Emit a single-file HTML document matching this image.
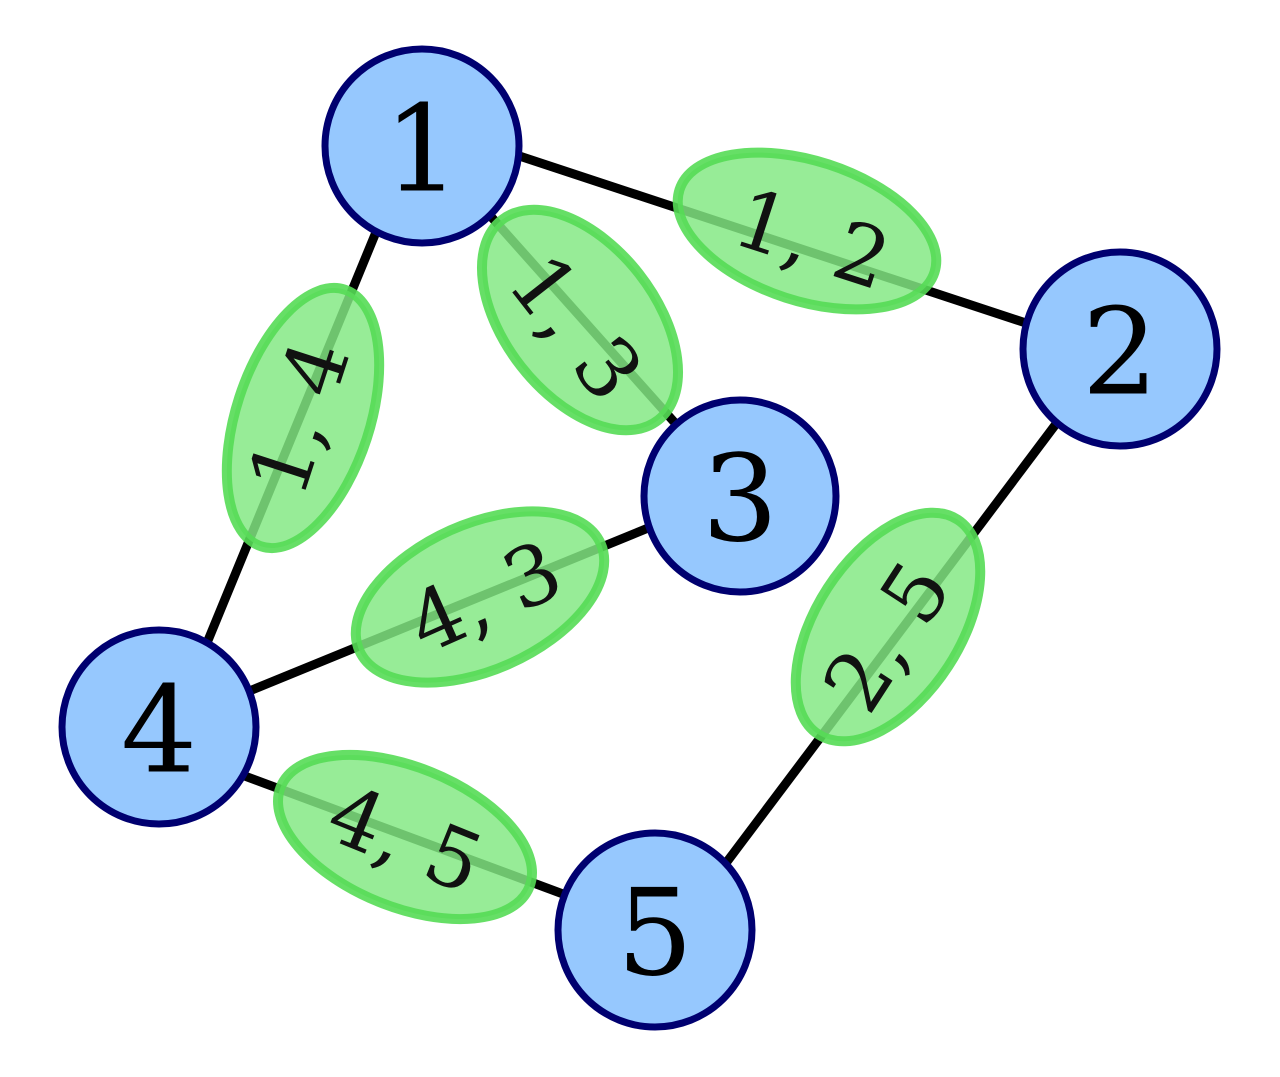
<!DOCTYPE html>
<html><head><meta charset="utf-8"><style>html,body{margin:0;padding:0;background:#fff}svg{display:block}</style></head>
<body>
<svg width="1280" height="1077" viewBox="0 0 1280 1077" xmlns="http://www.w3.org/2000/svg">
<g stroke="#000" stroke-width="9">
<line x1="495" y1="148" x2="1050" y2="331"/>
<line x1="470" y1="193" x2="700" y2="451"/>
<line x1="388" y1="203" x2="195" y2="672"/>
<line x1="225" y1="701" x2="680" y2="515"/>
<line x1="1080" y1="392" x2="705" y2="891"/>
<line x1="215" y1="765" x2="590" y2="904"/>
</g>
<g fill="rgb(131,232,131)" fill-opacity="0.84" stroke="rgb(85,220,85)" stroke-opacity="0.9" stroke-width="10">
<ellipse cx="0" cy="0" rx="134" ry="70" transform="translate(807,231) rotate(18)"/>
<ellipse cx="0" cy="0" rx="127" ry="75" transform="translate(580,320) rotate(52)"/>
<ellipse cx="0" cy="0" rx="135" ry="67" transform="translate(303,418) rotate(-72)"/>
<ellipse cx="0" cy="0" rx="132" ry="73" transform="translate(480,597) rotate(-24)"/>
<ellipse cx="0" cy="0" rx="128" ry="72" transform="translate(888,627) rotate(-57)"/>
<ellipse cx="0" cy="0" rx="134" ry="70" transform="translate(405,837) rotate(22)"/>
</g>
<g font-family="DejaVu Serif, Liberation Serif, serif" font-size="82" fill="#111" text-anchor="middle" dominant-baseline="central">
<text transform="translate(812,240) rotate(18)">1, 2</text>
<text transform="translate(575,328) rotate(52)">1, 3</text>
<text transform="translate(300,418) rotate(-72)">1, 4</text>
<text transform="translate(485,598) rotate(-24)">4, 3</text>
<text transform="translate(888,637) rotate(-57)">2, 5</text>
<text transform="translate(405,840) rotate(22)">4, 5</text>
</g>
<g fill="#96c8fe" stroke="#000070" stroke-width="7">
<circle cx="422" cy="146" r="97"/>
<circle cx="1120" cy="349" r="97"/>
<circle cx="740" cy="496" r="96"/>
<circle cx="159" cy="727" r="97"/>
<circle cx="655" cy="930" r="97"/>
</g>
<g font-family="DejaVu Serif, Liberation Serif, serif" font-size="120" fill="#000" text-anchor="middle" dominant-baseline="central">
<text x="422" y="150">1</text>
<text x="1120" y="353">2</text>
<text x="740" y="500">3</text>
<text x="159" y="731">4</text>
<text x="655" y="934">5</text>
</g>
</svg>
</body></html>
